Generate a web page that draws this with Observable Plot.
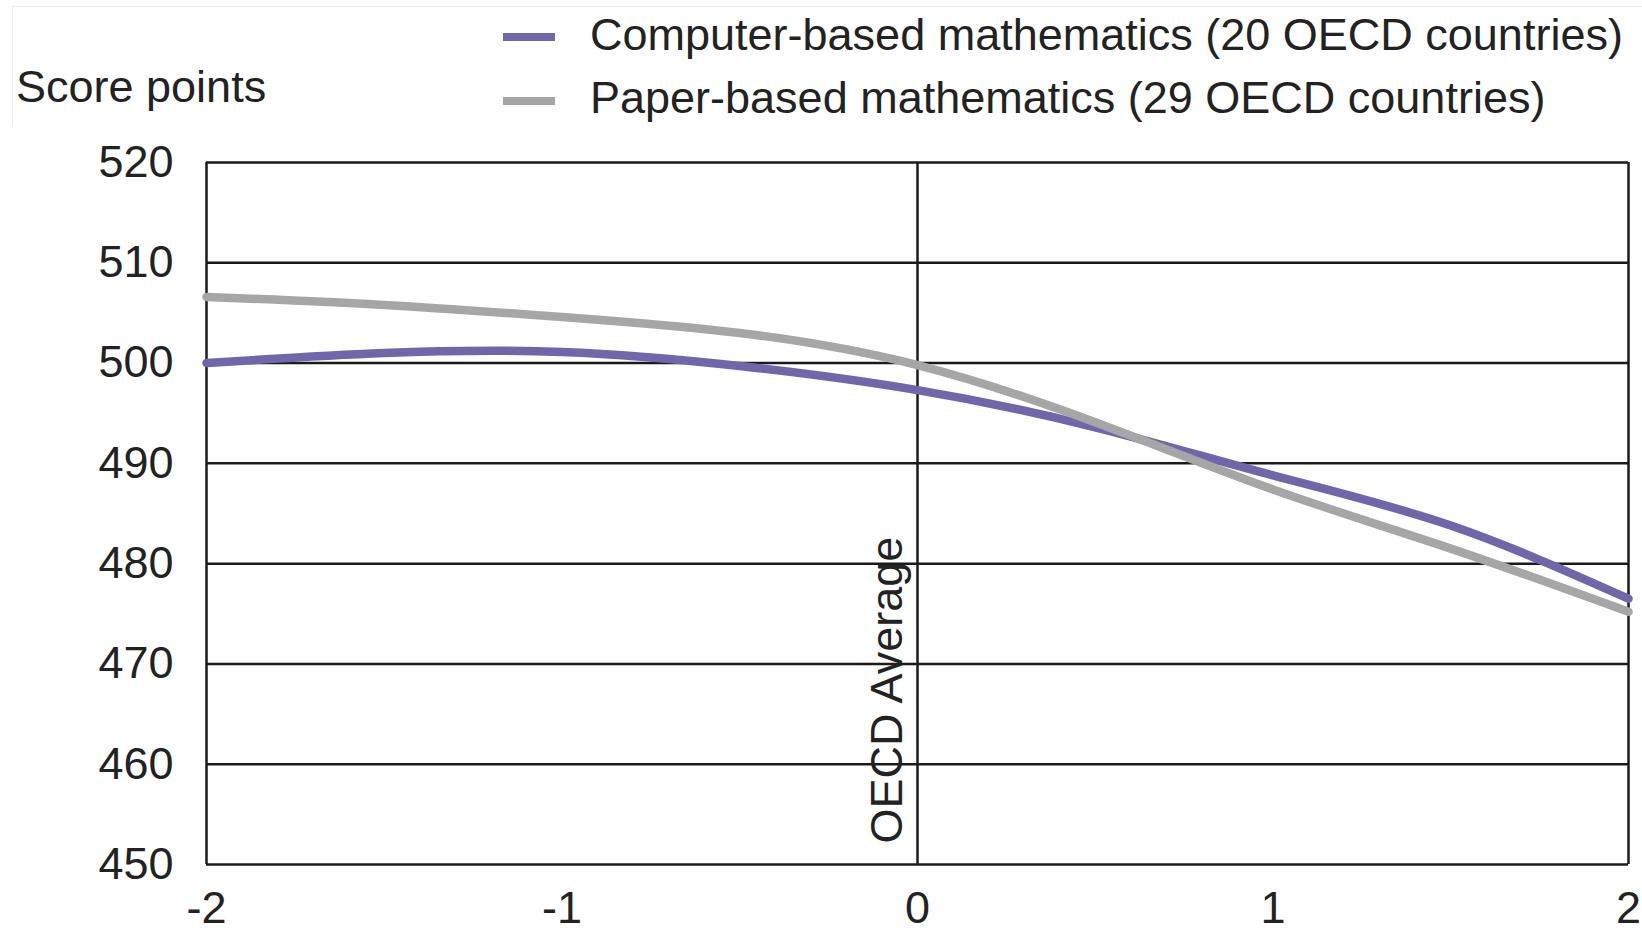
<!DOCTYPE html>
<html>
<head>
<meta charset="utf-8">
<script src="https://cdn.jsdelivr.net/npm/d3@7"></script>
<script src="https://cdn.jsdelivr.net/npm/@observablehq/plot@0.6"></script>
<style>
  html, body { margin: 0; padding: 0; background: #fff; }
  #wrap { position: relative; width: 1642px; height: 937px; overflow: hidden; font-family: "Liberation Sans", Arial, sans-serif; color: #222; }
  #frame { position: absolute; left: 12px; top: 6px; width: 1640px; height: 940px; border: 1px solid #ececec; }
  .lab { position: absolute; font-size: 45px; line-height: 1; white-space: nowrap; }
  .sw { position: absolute; width: 52px; height: 8px; }
  #chart { position: absolute; left: 0; top: 125px; }
</style>
</head>
<body>
<div id="wrap">
  <div id="frame"></div>
  <div class="lab" id="ylab" style="left:16px; top:64px;"></div>
  <div id="legend"></div>
  <div id="chart"></div>
</div>
<script>
// ---- data ----
const xValues = [-2, -1.5, -1, -0.5, 0, 0.5, 1, 1.5, 2];
const computerScores = [500.0, 501.0, 501.1, 499.7, 497.3, 493.6, 488.8, 483.8, 476.5];
const paperScores = [506.6, 505.8, 504.6, 503.0, 499.8, 494.1, 487.4, 481.5, 475.2];
const seriesNames = ["Computer-based mathematics (20 OECD countries)", "Paper-based mathematics (29 OECD countries)"];
const seriesColors = ["#6f67aa", "#a6a6a6"];
const yTicks = [450, 460, 470, 480, 490, 500, 510, 520];
const xTicks = [-2, -1, 0, 1, 2];
const yTitle = "Score points";
const refLabel = "OECD Average";

// ---- table ----
const rows = [];
xValues.forEach((x, i) => {
  rows.push({series: seriesNames[0], x, y: computerScores[i]});
  rows.push({series: seriesNames[1], x, y: paperScores[i]});
});

// ---- header (title + legend) ----
document.getElementById("ylab").textContent = yTitle;
const legend = document.getElementById("legend");
const legendTops = [12, 75];
const swatchTops = [33, 97];
seriesNames.forEach((name, i) => {
  const sw = document.createElement("div");
  sw.className = "sw";
  sw.style.left = "503px";
  sw.style.top = swatchTops[i] + "px";
  sw.style.background = seriesColors[i];
  legend.appendChild(sw);
  const t = document.createElement("div");
  t.className = "lab";
  t.style.left = "590px";
  t.style.top = legendTops[i] + "px";
  t.textContent = name;
  legend.appendChild(t);
});

// ---- chart ----
const chart = Plot.plot({
  width: 1642,
  height: 812,
  marginTop: 37,
  marginLeft: 206,
  marginRight: 14,
  marginBottom: 73,
  style: {fontFamily: "'Liberation Sans', Arial, sans-serif", fontSize: "45px", color: "#222", background: "#fff", overflow: "visible"},
  x: {domain: [-2, 2]},
  y: {domain: [450, 520]},
  color: {domain: seriesNames, range: seriesColors},
  marks: [
    Plot.ruleY(yTicks, {stroke: "#1a1a1a", strokeWidth: 2.5}),
    Plot.ruleX([-2, 0, 2], {stroke: "#1a1a1a", strokeWidth: 2.5}),
    Plot.text([refLabel], {x: 0, y: 450, text: d => d, rotate: -90, textAnchor: "start", lineAnchor: "middle", dx: -30, dy: -21, fontSize: 45, fill: "#222"}),
    Plot.line(rows, {x: "x", y: "y", z: "series", stroke: "series", strokeWidth: 8.5, curve: "natural"}),
    Plot.axisY({ticks: yTicks, tickSize: 0, tickPadding: 33, fontSize: 45, label: null}),
    Plot.axisX({ticks: xTicks, tickSize: 0, tickPadding: 27, fontSize: 45, label: null, tickFormat: d => String(d)})
  ]
});
document.getElementById("chart").appendChild(chart);
</script>
</body>
</html>
